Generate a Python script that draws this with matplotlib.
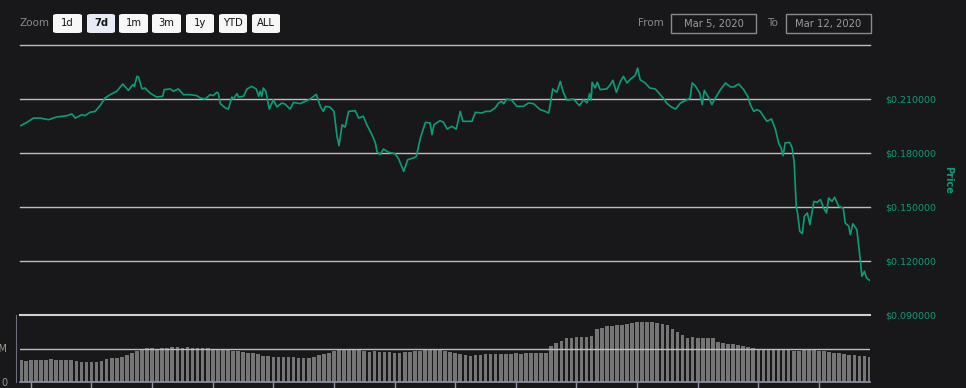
import numpy as np
import matplotlib
matplotlib.use("Agg")
import matplotlib.pyplot as plt
from matplotlib.patches import FancyBboxPatch, Rectangle

# hours since start of the 7 day window (Mar 5 -> Mar 12, 2020)
price_hours = [
    0.0, 1.2, 2.5, 3.8, 5.5, 7.1, 9.1, 10.1, 10.8, 12.1, 12.7, 13.7, 14.7, 15.7,
    16.7, 17.7, 19.0, 20.2, 21.3, 22.2, 22.5, 23.0, 23.3, 24.0, 24.6, 25.6, 26.9,
    28.1, 28.4, 29.6, 30.2, 31.2, 32.2, 33.5, 34.8, 35.5, 36.5, 37.5, 38.1, 38.8,
    39.1, 39.5, 40.5, 41.1, 41.8, 42.1, 42.8, 43.1, 44.1, 44.8, 45.7, 46.6, 47.1,
    47.4, 47.7, 48.0, 48.5, 49.2, 50.0, 50.7, 51.7, 52.3, 53.3, 54.0, 55.3, 56.3,
    57.3, 58.5, 59.3, 59.9, 60.3, 61.2, 62.0, 62.6, 63.0, 63.6, 64.2, 64.9, 66.2,
    66.9, 67.8, 68.5, 69.5, 70.2, 70.5, 71.1, 71.8, 72.8, 74.1, 74.8, 75.8, 76.6,
    77.7, 78.3, 79.1, 80.1, 81.0, 81.4, 81.8, 83.0, 83.7, 84.4, 85.3, 86.2, 87.0,
    87.5, 89.3, 90.0, 91.3, 92.0, 92.9, 93.9, 94.6, 95.2, 95.6, 96.2, 97.2, 98.2,
    99.5, 100.5, 101.5, 102.8, 103.5, 104.5, 104.8, 105.3, 106.1, 106.8, 107.4,
    108.1, 109.4, 110.1, 110.6, 111.4, 112.1, 112.6, 112.9, 113.1, 113.7, 114.1,
    114.7, 116.0, 116.7, 117.2, 117.9, 118.7, 119.3, 120.0, 120.7, 121.6, 122.1,
    122.6, 123.6, 124.5, 125.6, 126.6, 127.3, 127.8, 128.6, 129.6, 130.6, 131.9,
    132.5, 132.9, 133.5, 134.4, 134.9, 135.3, 136.2, 136.8, 137.5, 138.5, 139.5,
    140.5, 141.1, 142.1, 143.1, 143.9, 144.4, 145.1, 145.7, 146.4, 147.0, 147.7,
    148.6, 149.4, 150.0, 150.5, 150.9, 151.3, 152.2, 152.7, 153.1, 153.5, 153.8,
    154.2, 154.7, 155.1, 155.7, 156.2, 157.0, 157.6, 158.3, 158.9, 159.5, 159.9,
    160.6, 161.1, 161.9, 162.8, 163.2, 163.9, 164.2, 164.7, 165.5, 166.1, 166.5,
    167.0, 167.4, 168.0,
]
price_values = [
    0.1952, 0.1970, 0.1994, 0.1994, 0.1985, 0.2000, 0.2007, 0.2017, 0.1994, 0.2013,
    0.2007, 0.2026, 0.2031, 0.2063, 0.2106, 0.2124, 0.2143, 0.2183, 0.2148, 0.2180,
    0.2170, 0.2226, 0.2222, 0.2156, 0.2161, 0.2133, 0.2111, 0.2115, 0.2152, 0.2156,
    0.2143, 0.2156, 0.2124, 0.2124, 0.2119, 0.2106, 0.2100, 0.2124, 0.2119, 0.2137,
    0.2133, 0.2074, 0.2050, 0.2044, 0.2111, 0.2100, 0.2130, 0.2111, 0.2115, 0.2156,
    0.2170, 0.2156, 0.2115, 0.2143, 0.2115, 0.2161, 0.2143, 0.2044, 0.2096, 0.2056,
    0.2078, 0.2072, 0.2044, 0.2081, 0.2074, 0.2087, 0.2100, 0.2126, 0.2059, 0.2031,
    0.2059, 0.2055, 0.2031, 0.1893, 0.1841, 0.1957, 0.1944, 0.2031, 0.2035, 0.1994,
    0.2004, 0.1957, 0.1902, 0.1856, 0.1809, 0.1791, 0.1822, 0.1804, 0.1796, 0.1767,
    0.1698, 0.1763, 0.1772, 0.1781, 0.1883, 0.1970, 0.1967, 0.1902, 0.1957, 0.1980,
    0.1970, 0.1933, 0.1948, 0.1933, 0.2031, 0.1976, 0.1976, 0.2026, 0.2022, 0.2031,
    0.2031, 0.2050, 0.2078, 0.2087, 0.2074, 0.2100, 0.2093, 0.2059, 0.2059, 0.2078,
    0.2074, 0.2041, 0.2035, 0.2022, 0.2069, 0.2156, 0.2137, 0.2198, 0.2137, 0.2093,
    0.2100, 0.2078, 0.2063, 0.2096, 0.2078, 0.2130, 0.2093, 0.2193, 0.2161, 0.2193,
    0.2152, 0.2156, 0.2180, 0.2204, 0.2137, 0.2198, 0.2226, 0.2189, 0.2211, 0.2230,
    0.2272, 0.2207, 0.2189, 0.2161, 0.2156, 0.2124, 0.2100, 0.2078, 0.2059, 0.2044,
    0.2078, 0.2096, 0.2106, 0.2189, 0.2174, 0.2133, 0.2069, 0.2148, 0.2106, 0.2069,
    0.2106, 0.2152, 0.2189, 0.2167, 0.2167, 0.2183, 0.2152, 0.2115, 0.2069, 0.2031,
    0.2041, 0.2031, 0.2004, 0.1976, 0.1989, 0.1930, 0.1856, 0.1828, 0.1785, 0.1856,
    0.1859, 0.1828, 0.1744, 0.1504, 0.1457, 0.1365, 0.1352, 0.1448, 0.1467, 0.1402,
    0.1531, 0.1526, 0.1541, 0.1494, 0.1467, 0.1550, 0.1531, 0.1554, 0.1504, 0.1494,
    0.1411, 0.1393, 0.1346, 0.1407, 0.1374, 0.1226, 0.1115, 0.1143, 0.1106, 0.1093,
]

# hourly volume, millions of USD
volume = [
    321, 318, 326, 322, 330, 334, 337, 333, 335, 330, 326, 318, 300, 296,
    298, 305, 318, 337, 352, 362, 380, 398, 430, 465, 495, 505, 505, 500,
    505, 510, 515, 515, 508, 515, 512, 510, 508, 505, 500, 490, 482, 480,
    470, 465, 452, 440, 430, 420, 395, 388, 380, 375, 372, 368, 366, 362,
    362, 365, 372, 405, 418, 440, 460, 474, 478, 475, 474, 472, 460, 455,
    458, 455, 452, 448, 440, 438, 445, 455, 462, 464, 475, 485, 490, 480,
    465, 450, 439, 420, 400, 388, 400, 410, 420, 423, 420, 425, 422, 425,
    428, 425, 429, 432, 430, 435, 439, 530, 580, 610, 650, 660, 665, 670,
    678, 682, 796, 810, 830, 840, 845, 855, 865, 880, 895, 898, 895, 890,
    880, 870, 847, 790, 740, 700, 660, 668, 660, 655, 655, 650, 590, 575,
    565, 560, 552, 540, 515, 510, 500, 490, 488, 485, 480, 478, 475, 468,
    460, 475, 490, 485, 470, 462, 455, 440, 430, 420, 410, 403, 395, 385,
    378,
]
vol_hours = np.arange(len(volume))

price_ticks = [0.09, 0.12, 0.15, 0.18, 0.21]
price_labels = [f"${v:.6f}" for v in price_ticks]
zoom_buttons = ["1d", "7d", "1m", "3m", "1y", "YTD", "ALL"]
date_from = "Mar 5, 2020"
date_to = "Mar 12, 2020"

BG = "#18181b"
GREEN = "#0a9e78"
GRID = "#bdbdbd"
W, H = 966, 388

fig = plt.figure(figsize=(W / 100, H / 100), dpi=100, facecolor=BG)


def fx(px):
    return px / W


def fy(py):
    return (H - py) / H


# price pane
ax = fig.add_axes([fx(20), fy(315), fx(850), 270 / H], facecolor=BG)
ax.plot(price_hours, price_values, color=GREEN, lw=1.2, solid_joinstyle="round")
ax.set_xlim(-0.15, 168.1)
ax.set_ylim(0.09, 0.24)
ax.set_yticks(price_ticks)
ax.set_yticklabels(price_labels)
ax.yaxis.tick_right()
ax.tick_params(axis="y", length=0, pad=11, labelcolor=GREEN, labelsize=6.8)
ax.set_xticks([])
for s in ax.spines.values():
    s.set_visible(False)
for v in price_ticks[1:] + [0.24]:
    ax.axhline(v, color=GRID, lw=1, zorder=0, clip_on=False)
fig.text(fx(948), fy(180), "Price", rotation=270, color=GREEN, fontsize=7,
         fontweight="bold", ha="center", va="center")

# volume pane
vax = fig.add_axes([fx(20), fy(382), fx(850), 67 / H], facecolor=BG)
vax.bar(vol_hours, volume, width=0.72, color="#757575", edgecolor="none", zorder=1)
vax.set_xlim(-0.15, 168.1)
vax.set_ylim(0, 1000)
vax.axhline(500, color=GRID, lw=1, zorder=2)
vax.axhline(1000, color="#d0d0d0", lw=1.5, zorder=2, clip_on=False)
for s in ["top", "right"]:
    vax.spines[s].set_visible(False)
vax.spines["bottom"].set_color("#8f95a6")
vax.spines["bottom"].set_linewidth(1.2)
vax.spines["left"].set_color("#6c707c")
vax.spines["left"].set_position(("outward", 3))
vax.set_xticks(np.arange(2, 168, 12))
vax.set_xticklabels([])
vax.tick_params(axis="x", length=5, color="#8f95a6", width=1)
vax.set_yticks([0, 500])
vax.set_yticklabels(["0", "500M"])
vax.tick_params(axis="y", length=0, pad=6, labelcolor="#a09a90", labelsize=7)

# range selector
fig.text(fx(19), fy(23), "Zoom", color="#8a8a8a", fontsize=7.5, va="center")
bx = [53, 87, 119, 152, 186, 219, 252]
bw = [29, 28, 29, 29, 28, 28, 28]
for label, x0, w in zip(zoom_buttons, bx, bw):
    sel = label == "7d"
    fig.patches.append(FancyBboxPatch(
        (fx(x0), fy(33)), fx(w), 19 / H,
        boxstyle="round,pad=0,rounding_size=0.004",
        transform=fig.transFigure, facecolor="#e6ebf5" if sel else "#f7f7f7",
        edgecolor="none"))
    fig.text(fx(x0 + w / 2), fy(23.5), label, color="#111111", fontsize=7.2,
             ha="center", va="center", fontweight="bold" if sel else "normal")

fig.text(fx(638), fy(23), "From", color="#8a8a8a", fontsize=7.5, va="center")
fig.text(fx(767), fy(23), "To", color="#8a8a8a", fontsize=7.5, va="center")
for txt, x0, w in [(date_from, 671, 85), (date_to, 786, 85)]:
    fig.patches.append(Rectangle((fx(x0), fy(33)), fx(w), 19 / H,
                                 transform=fig.transFigure, facecolor=BG,
                                 edgecolor="#8a8a8a", lw=1))
    fig.text(fx(x0 + w / 2), fy(23.5), txt, color="#9a9a9a", fontsize=7.2,
             ha="center", va="center")

fig.savefig("out.png", dpi=100, facecolor=BG)
